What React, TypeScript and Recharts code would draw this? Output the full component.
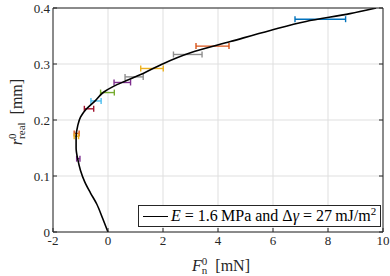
import {
  CartesianGrid,
  ComposedChart,
  ErrorBar,
  Label,
  Legend,
  Line,
  Scatter,
  XAxis,
  YAxis,
} from "recharts";

// model curve: normal force F0_n [mN] vs contact radius r0_real [mm]
const curveForce = [
  0, -0.2, -0.41, -0.64, -0.85, -1.0, -1.1, -1.16, -1.16, -1.1, -1.0, -0.78,
  -0.45, -0.15, 0.2, 0.65, 1.35, 1.98, 3.0, 4.45, 5.9, 7.2, 8.8, 9.75,
];
const curveRadius = [
  0, 0.025, 0.05, 0.07, 0.09, 0.11, 0.13, 0.15, 0.17, 0.19, 0.205, 0.22, 0.235,
  0.25, 0.26, 0.27, 0.285, 0.3, 0.32, 0.34, 0.36, 0.376, 0.39, 0.4,
];

// measured points with horizontal error bars
const measForce = [7.72, 3.8, 2.9, 1.6, 0.95, 0.52, -0.02, -0.435, -0.69, -1.14, -1.15, -1.08];
const measRadius = [0.38, 0.332, 0.317, 0.292, 0.277, 0.267, 0.249, 0.234, 0.22, 0.176, 0.171, 0.131];
const measErr = [0.92, 0.6, 0.52, 0.41, 0.33, 0.3, 0.25, 0.185, 0.17, 0.09, 0.08, 0.06];
const measColor = [
  "#0072BD", "#D95319", "#8f8f8f", "#EDB120", "#8f8f8f", "#7E2F8E",
  "#77AC30", "#4DBEEE", "#A2142F", "#D95319", "#EDB120", "#7E2F8E",
];

const xTicks = [-2, 0, 2, 4, 6, 8, 10];
const yTicks = [0, 0.1, 0.2, 0.3, 0.4];

const curve = curveForce.map((x, i) => ({ x, y: curveRadius[i] }));
const points = measForce.map((x, i) => ({ x, y: measRadius[i], e: measErr[i] }));

const FONT = "'Liberation Serif', 'DejaVu Serif', serif";
const INK = "#262626";
const tickStyle = { fill: INK, fontSize: 13, fontFamily: FONT };

function XTitle(props: any) {
  const vb = props.viewBox || { x: 53, y: 232, width: 330, height: 44 };
  const cx = vb.x + vb.width / 2 + 3;
  const cy = vb.y + 39;
  return (
    <text x={cx} y={cy} textAnchor="middle" fill={INK} fontSize={16} fontFamily={FONT}>
      <tspan fontStyle="italic">F</tspan>
      <tspan fontSize={11} dy={-6}>0</tspan>
      <tspan fontSize={11} dx={-5.5} dy={9}>n</tspan>
      <tspan dy={-3}>{"\u2002[mN]"}</tspan>
    </text>
  );
}

function YTitle(props: any) {
  const vb = props.viewBox || { x: 0, y: 8, width: 53, height: 224 };
  const cx = vb.x + 22;
  const cy = vb.y + vb.height / 2 - 8;
  return (
    <text
      x={cx}
      y={cy}
      transform={`rotate(-90, ${cx}, ${cy})`}
      textAnchor="middle"
      fill={INK}
      fontSize={16}
      fontFamily={FONT}
    >
      <tspan fontStyle="italic">r</tspan>
      <tspan fontSize={11} dy={-6}>0</tspan>
      <tspan fontSize={11} dx={-5.5} dy={9}>real</tspan>
      <tspan dy={-3}>{"\u2002[mm]"}</tspan>
    </text>
  );
}

function LegendBox() {
  return (
    <div
      style={{
        boxSizing: "border-box",
        width: 243,
        height: 22,
        border: `1px solid ${INK}`,
        background: "#fff",
        display: "flex",
        alignItems: "center",
        fontFamily: FONT,
        fontSize: 16,
        color: "#000",
        whiteSpace: "nowrap",
      }}
    >
      <span
        style={{ display: "inline-block", width: 25, height: 0, borderTop: "1.6px solid #000", margin: "0 3px 0 4px" }}
      />
      <span>
        <i>E</i> = 1.6&#8201;MPa and &#916;<i>&#947;</i> = 27&#8201;mJ/m
        <span style={{ fontSize: 11, position: "relative", top: -6 }}>2</span>
      </span>
    </div>
  );
}

export default function App() {
  return (
    <div style={{ position: "absolute", left: 0, top: 0, background: "#fff" }}>
      <ComposedChart width={390} height={276} margin={{ top: 0, right: 0, bottom: 0, left: 0 }}>
        <CartesianGrid stroke="#dfdfdf" strokeWidth={1} />
        <XAxis
          dataKey="x"
          type="number"
          domain={[-2, 10]}
          ticks={xTicks}
          allowDataOverflow
          height={44}
          tickSize={-4}
          tickMargin={8}
          tick={tickStyle}
          axisLine={{ stroke: INK }}
          tickLine={{ stroke: INK }}
        >
          <Label content={XTitle} />
        </XAxis>
        <XAxis
          xAxisId="top"
          orientation="top"
          type="number"
          domain={[-2, 10]}
          ticks={xTicks}
          allowDataOverflow
          height={8}
          tickSize={-4}
          tickFormatter={() => ""}
          axisLine={{ stroke: INK }}
          tickLine={{ stroke: INK }}
        />
        <YAxis
          dataKey="y"
          type="number"
          domain={[0, 0.4]}
          ticks={yTicks}
          allowDataOverflow
          width={53}
          tickSize={-4}
          tickMargin={7}
          tick={tickStyle}
          axisLine={{ stroke: INK }}
          tickLine={{ stroke: INK }}
        >
          <Label content={YTitle} />
        </YAxis>
        <YAxis
          yAxisId="right"
          orientation="right"
          type="number"
          domain={[0, 0.4]}
          ticks={yTicks}
          allowDataOverflow
          width={7}
          tickSize={-4}
          tickFormatter={() => ""}
          axisLine={{ stroke: INK }}
          tickLine={{ stroke: INK }}
        />
        {points.map((p, i) => (
          <Scatter
            key={i}
            data={[p]}
            dataKey="y"
            shape={() => <g />}
            isAnimationActive={false}
            legendType="none"
          >
            <ErrorBar
              dataKey="e"
              direction="x"
              width={3}
              stroke={measColor[i]}
              strokeWidth={1.4}
              isAnimationActive={false}
            />
          </Scatter>
        ))}
        <Line
          data={curve}
          dataKey="y"
          type="monotoneY"
          stroke="#000"
          strokeWidth={1.6}
          dot={false}
          activeDot={false}
          isAnimationActive={false}
          legendType="none"
        />
        <Legend
          layout="vertical"
          align="center"
          verticalAlign="middle"
          content={() => <LegendBox />}
          wrapperStyle={{ left: 138, top: 205, width: 243, height: 22 }}
        />
      </ComposedChart>
    </div>
  );
}
